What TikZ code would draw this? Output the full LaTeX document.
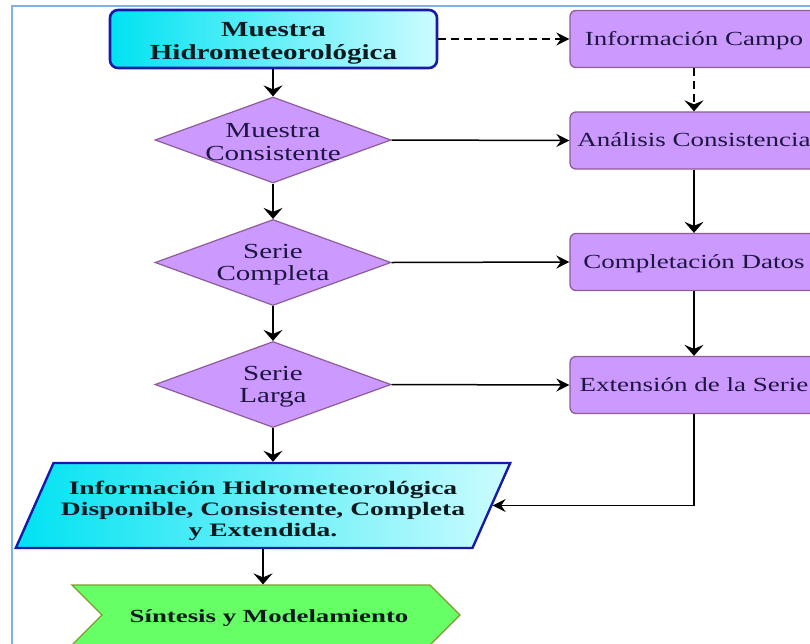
\documentclass[tikz,border=0pt]{standalone}
\usepackage{fontspec}
\setmainfont{Liberation Serif}[FakeStretch=1.35]
\newfontfamily\wideserif{Liberation Serif}[FakeStretch=1.45]
\usetikzlibrary{shapes.geometric,shapes.symbols,arrows.meta}
\definecolor{frameblue}{HTML}{7FB0E6}
\definecolor{cyanL}{HTML}{00E2F2}
\definecolor{cyanR}{HTML}{CCFCFF}
\definecolor{navyborder}{HTML}{1A1AA8}
\definecolor{violetfill}{HTML}{CC99FF}
\definecolor{violetline}{HTML}{8E5C96}
\definecolor{greenfill}{HTML}{66FF66}
\definecolor{greenline}{HTML}{7E9A2E}
\definecolor{txtnavy}{HTML}{1C1640}
\definecolor{txtdark}{HTML}{0A1A1E}
\newcommand{\lowerby}[2]{\raisebox{-#1}[\height][\depth]{#2}}
\begin{document}
\begin{tikzpicture}[x=1pt,y=-1pt,
  startbox/.style={draw=navyborder,line width=2.6pt,rounded corners=8pt,left color=cyanL,right color=cyanR,
    minimum width=327pt,minimum height=58pt,inner sep=0pt},
  starttext/.style={align=center,text=txtdark,inner sep=0pt,yshift=-4pt,
    font=\bfseries\fontsize{21.5}{23}\selectfont},
  procbox/.style={draw=violetline,line width=1.3pt,rounded corners=6pt,fill=violetfill,
    minimum width=248pt,minimum height=57pt,text=txtnavy,font=\fontsize{20}{24}\selectfont,
    inner sep=0pt,text height=15pt,text depth=3pt},
  decision/.style={diamond,draw=violetline,line width=1.2pt,fill=violetfill,
    minimum width=236pt,minimum height=86pt,inner sep=0pt},
  dectext/.style={align=center,text=txtnavy,inner sep=0pt,yshift=-2pt,font=\fontsize{21.5}{22.5}\selectfont},
  iobox/.style={trapezium,trapezium left angle=60,trapezium right angle=120,trapezium stretches=true,
    draw=navyborder,line width=2.4pt,left color=cyanL,right color=cyanR,
    minimum width=496pt,minimum height=85pt,inner sep=0pt,text=txtdark,
    font=\wideserif\bfseries\fontsize{19}{21}\selectfont},
  endbox/.style={signal,signal from=west,signal to=east,signal pointer angle=90,
    draw=greenline,line width=1.2pt,fill=greenfill,minimum width=388pt,minimum height=60pt,
    inner sep=0pt,text=txtdark,font=\wideserif\bfseries\fontsize{18.5}{20}\selectfont},
  arrd/.style={-{Stealth[length=11pt,width=19pt,inset=4pt]},line width=1.8pt,black},
  arrr/.style={-{Stealth[length=13pt,width=13pt,inset=4.5pt]},line width=1.5pt,black},
  dashpat/.style={dash pattern=on 8pt off 5pt}
]
\useasboundingbox (0,0) rectangle (810,643);
\clip (0,0) rectangle (810,643);
\fill[white] (0,0) rectangle (810,643);
\draw[frameblue,line width=2.5pt] (12,650) -- (12,6) -- (815,6);

\node[startbox,label={[starttext]center:{Muestra\\Hidrometeorológica}}] (start) at (273.5,39) {};
\node[procbox] (campo) at (694,39) {Información Campo};
\node[decision,label={[dectext]center:{Muestra\\Consistente}}] (d1) at (273,140) {};
\node[procbox] (anal) at (694,140.5) {Análisis Consistencia};
\node[decision,label={[dectext]center:{Serie\\Completa}}] (d2) at (273,262.5) {};
\node[procbox] (compl) at (694,262) {Completación Datos};
\node[decision,label={[dectext]center:{Serie\\Larga}}] (d3) at (273,384.5) {};
\node[procbox] (ext) at (694,385) {Extensión de la Serie};
\node[iobox] (info) at (263,505.5) {\lowerby{6pt}{\begin{tabular}{@{}c@{}}Información Hidrometeorológica\\Disponible, Consistente, Completa\\y Extendida.\end{tabular}}};
\node[endbox] (sint) at (266,615) {\lowerby{3pt}{\hspace{6pt}Síntesis y Modelamiento}};

\draw[arrr,dashpat] (start.east) -- (campo.west);
\draw[arrd,dashpat] (campo.south) -- (anal.north);
\draw[arrd] (start.south -| d1.north) -- (d1.north);
\draw[arrr] (d1.east) -- (anal.west);
\draw[arrd] (d1.south) -- (d2.north);
\draw[arrd] (anal.south) -- (compl.north);
\draw[arrr] (d2.east) -- (compl.west);
\draw[arrd] (d2.south) -- (d3.north);
\draw[arrd] (compl.south) -- (ext.north);
\draw[arrr] (d3.east) -- (ext.west);
\draw[arrd] (d3.south) -- (d3.south |- info.north);
\draw[arrr,line width=1.4pt] (ext.south) |- (info.east);
\draw[arrd] (info.center |- info.south) -- (info.center |- sint.north);
\end{tikzpicture}
\end{document}
